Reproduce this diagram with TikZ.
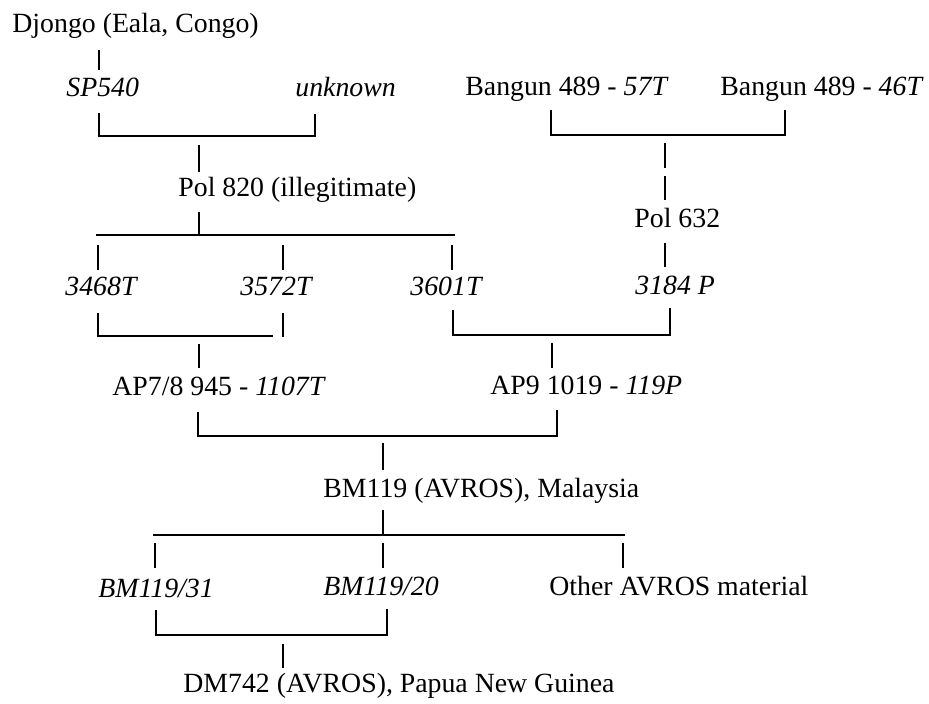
\documentclass[tikz,border=0pt]{standalone}
\usepackage{fontspec}
\setmainfont{Liberation Serif}
\begin{document}
\begin{tikzpicture}[x=0.5pt,y=-0.5pt,
  lbl/.style={anchor=base west,inner sep=0pt,font=\fontsize{13.9}{16}\selectfont},
  ln/.style={line width=0.9pt,line cap=butt}]
\useasboundingbox[fill=white] (0,0) rectangle (929,704);
% labels
\node[lbl] (djongo) at (12,33) {Djongo (Eala, Congo)};
\node[lbl] (sp540) at (66,97) {\textit{SP540}};
\node[lbl] (unknown) at (295,97) {\textit{unknown}};
\node[lbl] (bangA) at (465,96) {Bangun 489 - \textit{57T}};
\node[lbl] (bangB) at (720,96) {Bangun 489 - \textit{46T}};
\node[lbl] (pol820) at (178,197) {Pol 820 (illegitimate)};
\node[lbl] (pol632) at (634,228) {Pol 632};
\node[lbl] (t3468) at (65,296) {\textit{3468T}};
\node[lbl] (t3572) at (240,296) {\textit{3572T}};
\node[lbl] (t3601) at (410,296) {\textit{3601T}};
\node[lbl] (p3184) at (635,295) {\textit{3184 P}};
\node[lbl] (ap78) at (112,396) {AP7/8 945 - \textit{1107T}};
\node[lbl] (ap9) at (490,395) {AP9 1019 - \textit{119P}};
\node[lbl] (bm119) at (323,497) {BM119 (AVROS), Malaysia};
\node[lbl] (bm31) at (98,597) {\textit{BM119/31}};
\node[lbl] (bm20) at (323,595) {\textit{BM119/20}};
\node[lbl] (other) at (549,595) {Other AVROS material};
\node[lbl] (dm742) at (183,692) {DM742 (AVROS), Papua New Guinea};
% coordinates
\coordinate (d1) at (99,50);   \coordinate (d2) at (99,70);
\coordinate (s1) at (99,113);  \coordinate (s2) at (99,136);
\coordinate (s3) at (315,136); \coordinate (s4) at (315,114);
\coordinate (p1) at (199,145); \coordinate (p2) at (199,172);
\coordinate (p3) at (199,212); \coordinate (p4) at (199,235);
\coordinate (h1) at (96,235);  \coordinate (h2) at (455,235);
\coordinate (a1) at (98,245);  \coordinate (a2) at (98,270);
\coordinate (b1) at (283,245); \coordinate (b2) at (283,270);
\coordinate (c1) at (452,245); \coordinate (c2) at (452,270);
\coordinate (e1) at (98,313);  \coordinate (e2) at (98,336);
\coordinate (e3) at (273,336); \coordinate (e4) at (283,313);
\coordinate (e5) at (283,337);
\coordinate (f1) at (199,344); \coordinate (f2) at (199,368);
\coordinate (g1) at (198,412); \coordinate (g2) at (198,436);
\coordinate (g3) at (557,436); \coordinate (g4) at (557,410);
\coordinate (k1) at (383,443); \coordinate (k2) at (383,470);
\coordinate (k3) at (383,510); \coordinate (k4) at (383,535);
\coordinate (m1) at (153,535); \coordinate (m2) at (625,535);
\coordinate (n1) at (155,543); \coordinate (n2) at (155,568);
\coordinate (n3) at (383,543); \coordinate (n4) at (383,568);
\coordinate (n5) at (623,543); \coordinate (n6) at (623,568);
\coordinate (q1) at (156,610); \coordinate (q2) at (156,635);
\coordinate (q3) at (387,635); \coordinate (q4) at (387,609);
\coordinate (r1) at (283,644); \coordinate (r2) at (283,668);
\coordinate (u1) at (551,110); \coordinate (u2) at (551,135);
\coordinate (u3) at (785,135); \coordinate (u4) at (785,110);
\coordinate (v1) at (665,143); \coordinate (v2) at (665,168);
\coordinate (v3) at (665,176); \coordinate (v4) at (665,200);
\coordinate (v5) at (665,243); \coordinate (v6) at (665,267);
\coordinate (w1) at (453,310); \coordinate (w2) at (453,335);
\coordinate (w3) at (670,335); \coordinate (w4) at (670,308);
\coordinate (x1) at (552,343); \coordinate (x2) at (552,368);
% connectors
\draw[ln] (d1) -- (d2);
\draw[ln] (s1) -- (s2) -- (s3) -- (s4);
\draw[ln] (p1) -- (p2);
\draw[ln] (p3) -- (p4);
\draw[ln] (h1) -- (h2);
\draw[ln] (a1) -- (a2);
\draw[ln] (b1) -- (b2);
\draw[ln] (c1) -- (c2);
\draw[ln] (e1) -- (e2) -- (e3);
\draw[ln] (e4) -- (e5);
\draw[ln] (f1) -- (f2);
\draw[ln] (g1) -- (g2) -- (g3) -- (g4);
\draw[ln] (k1) -- (k2);
\draw[ln] (k3) -- (k4);
\draw[ln] (m1) -- (m2);
\draw[ln] (n1) -- (n2);
\draw[ln] (n3) -- (n4);
\draw[ln] (n5) -- (n6);
\draw[ln] (q1) -- (q2) -- (q3) -- (q4);
\draw[ln] (r1) -- (r2);
\draw[ln] (u1) -- (u2) -- (u3) -- (u4);
\draw[ln] (v1) -- (v2);
\draw[ln] (v3) -- (v4);
\draw[ln] (v5) -- (v6);
\draw[ln] (w1) -- (w2) -- (w3) -- (w4);
\draw[ln] (x1) -- (x2);
\end{tikzpicture}
\end{document}
